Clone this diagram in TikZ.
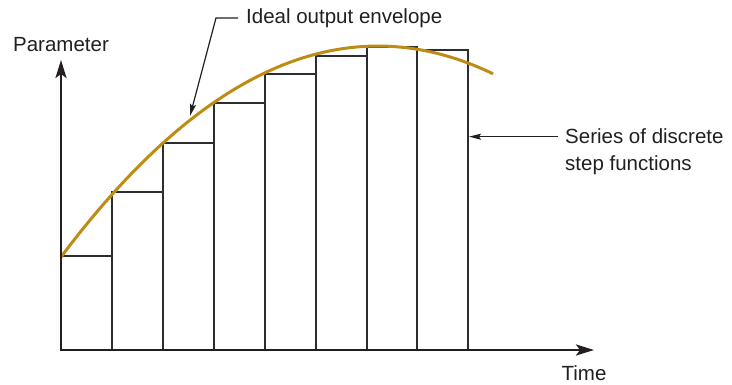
\documentclass[tikz,border=0pt]{standalone}
\usepackage{fontspec}
\setmainfont{Liberation Sans}
\usetikzlibrary{arrows.meta}
\definecolor{ink}{RGB}{35,31,32}
\definecolor{envel}{RGB}{190,140,20}
\definecolor{barline}{RGB}{45,45,45}
\tikzset{
  lbl/.style={font=\fontsize{20.5}{27}\selectfont, text=ink, inner sep=0pt},
  axisline/.style={line width=2.8pt, draw=ink, {Stealth[length=18pt,width=11pt,inset=4pt]}-{Stealth[length=18pt,width=11pt,inset=4pt]}},
  stepbar/.style={line width=1.3pt, draw=barline},
  envelope/.style={line width=3pt, draw=envel},
  leader/.style={line width=1.2pt, draw=ink, -{Stealth[length=12pt,width=6pt,inset=2pt]}}
}
\begin{document}
\begin{tikzpicture}[x=1pt,y=-1pt]
\useasboundingbox (0,0) rectangle (732,385);
% step bars
\foreach \xa/\xb/\top in {61/112/256,112/163/192,163/214/143,214/265/103,265/316/74,316/367/56,367/417/47,417/468/50}{
  \draw[stepbar] (\xa,350) rectangle (\xb,\top);
}
% envelope (parabola)
\draw[envelope] (61,257) .. controls (204.9,65.3) and (348.9,4.3) .. (493,73.8);
% axes
\coordinate (ytip) at (61,60);
\coordinate (origin) at (61,350);
\coordinate (xtip) at (594,350);
\draw[axisline] (ytip) -- (origin) -- (xtip);
% labels
\node[lbl, anchor=base] (param) at (61,52) {Parameter};
\node[lbl, anchor=base] (time) at (584,381) {Time};
\node[lbl, anchor=base west, inner xsep=8pt] (ideal) at (238,23.3) {Ideal output envelope};
\node[lbl, anchor=base west, inner xsep=7pt] (s1) at (558,144) {Series of discrete};
\node[lbl, anchor=base west] (s2) at (565,171) {step functions};
% leaders
\coordinate (corner) at (216,17);
\coordinate (tip1) at (190,116);
\draw[leader] (ideal.west) -- (ideal.west -| corner) -- (tip1);
\coordinate (tip2) at (469,138);
\draw[leader] (s1.west) -- (s1.west -| tip2);
\end{tikzpicture}
\end{document}
